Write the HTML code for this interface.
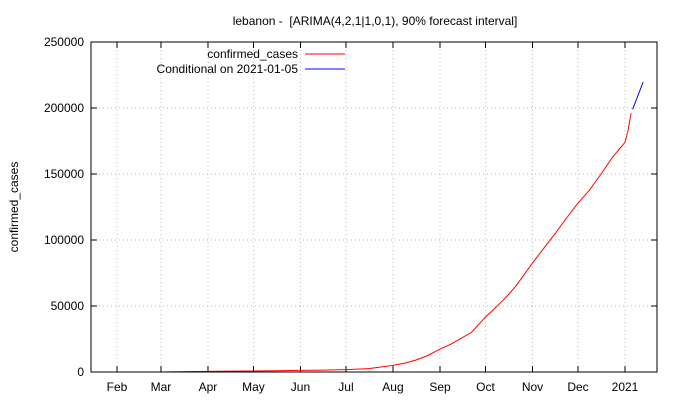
<!DOCTYPE html>
<html><head><meta charset="utf-8"><style>
body{margin:0;background:#fff}
svg{display:block;font-family:"Liberation Sans",sans-serif;font-size:12px}
</style></head><body>
<svg width="680" height="400">
<text x="375" y="25" text-anchor="middle">lebanon -&#160; [ARIMA(4,2,1|1,0,1), 90% forecast interval]</text>
<text transform="translate(18,207) rotate(-90)" text-anchor="middle">confirmed_cases</text>
<g id="grid"></g><g id="axes"></g><g id="series"></g>
<rect x="91" y="42" width="566" height="330" fill="none" stroke="#000"/>
<text x="298" y="58" text-anchor="end">confirmed_cases</text>
<line x1="305" y1="54" x2="345" y2="54" stroke="#f00"/>
<text x="298" y="73" text-anchor="end">Conditional on 2021-01-05</text>
<line x1="305" y1="69" x2="345" y2="69" stroke="#00f"/>
</svg>
<script>
const yTicks=[0,50000,100000,150000,200000,250000];
const monthLabels=["Feb","Mar","Apr","May","Jun","Jul","Aug","Sep","Oct","Nov","Dec","2021"];
const monthDays=[0,29,60,90,121,151,182,213,243,274,304,335];
const caseDays=[20,29,45,60,75,90,105,121,136,151,166,182,190,197,205,213,220,227,234,243,249,256,263,274,281,289,296,304,311,318,327,335,337,339];
const caseValues=[1,10,250,480,700,750,950,1250,1450,1800,2600,5000,6800,9000,12500,17400,21000,25500,30300,41700,48000,56000,65000,82600,93000,105000,116000,128000,137000,148000,163000,174000,183000,196000];
const fcDays=[340,347];
const fcValues=[199000,219700];
const NS="http://www.w3.org/2000/svg";
const X=d=>117+1.5164*d, Y=v=>372-v*330/250000;
const grid=document.getElementById('grid'),axes=document.getElementById('axes'),ser=document.getElementById('series');
function mk(tag,at,parent){const e=document.createElementNS(NS,tag);for(const k in at)e.setAttribute(k,at[k]);parent.appendChild(e);return e;}
yTicks.forEach(v=>{
 const y=Y(v);
 if(v>0&&v<250000){const g=mk('line',{x1:91,x2:657,y1:y,y2:y,stroke:'#bbb','stroke-dasharray':'1,3'},grid);
 
 }
 const t1=mk('line',{x1:91,x2:97,y1:y,y2:y,stroke:'#000'},axes);
 
 
 const t2=mk('line',{x1:651,x2:657,y1:y,y2:y,stroke:'#000'},axes);
 
 
 const tx=mk('text',{x:84,y:y+4,'text-anchor':'end'},axes);tx.textContent=v;
 
 
});
monthDays.forEach((d,i)=>{
 const x=X(d);
 const g=mk('line',{x1:x,x2:x,y1:42,y2:372,stroke:'#bbb','stroke-dasharray':'1,3'},grid);
 
 
 const t=mk('line',{x1:x,x2:x,y1:366,y2:372,stroke:'#000'},axes);
 
 
 const tt=mk('line',{x1:x,x2:x,y1:42,y2:48,stroke:'#000'},axes);
 
 
 const tx=mk('text',{x:x,y:391,'text-anchor':'middle'},axes);tx.textContent=monthLabels[i];
 
 
});
const p1=mk('polyline',{points:caseDays.map((d,i)=>X(d)+','+Y(caseValues[i])).join(' '),fill:'none',stroke:'#f00','stroke-width':1},ser);


const p2=mk('polyline',{points:fcDays.map((d,i)=>X(d)+','+Y(fcValues[i])).join(' '),fill:'none',stroke:'#00f','stroke-width':1},ser);


</script>
</body></html>
